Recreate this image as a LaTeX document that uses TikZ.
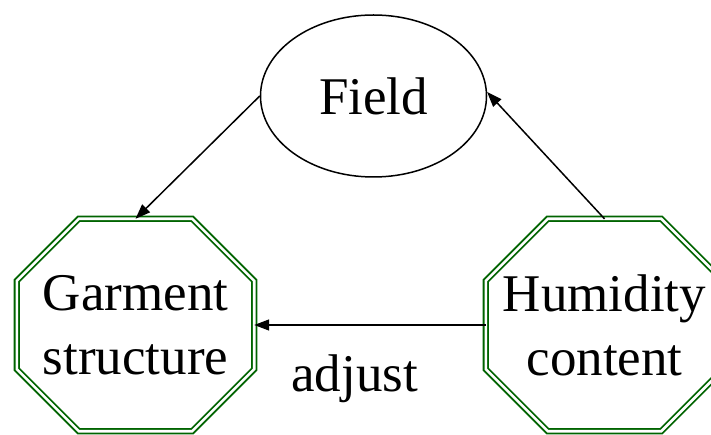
\documentclass[tikz,border=0pt]{standalone}
\usepackage{fontspec}
\setmainfont{Liberation Serif}
\usetikzlibrary{arrows.meta,shapes.geometric,calc}
\definecolor{boxgreen}{HTML}{006400}

% octagon drawn round a named rectangle node, corners cut by #2
\newcommand\octframe[2]{%
  \draw[octline]
    ($(#1.north west)+(#2,0)$) -- ($(#1.north east)+(-#2,0)$)
    -- ($(#1.north east)+(0,#2)$) -- ($(#1.south east)+(0,-#2)$)
    -- ($(#1.south east)+(-#2,0)$) -- ($(#1.south west)+(#2,0)$)
    -- ($(#1.south west)+(0,-#2)$) -- ($(#1.north west)+(0,#2)$)
    -- cycle;}

\begin{document}
\begin{tikzpicture}[x=1pt,y=-1pt,
  every node/.style={font=\fontsize{53}{64}\selectfont},
  octbox/.style={rectangle,minimum width=237pt,minimum height=212pt,
    inner sep=0pt,align=center},
  octline/.style={draw=boxgreen,line width=1.8pt,double=white,
    double distance=2.6pt,line join=miter},
  ovalbox/.style={ellipse,draw,line width=1.5pt,minimum width=226pt,
    minimum height=162pt,inner sep=0pt},
  link/.style={line width=1.5pt,-{Triangle[length=15pt,width=11pt]}}]
\useasboundingbox (0,0) rectangle (711,435);
\clip (0,0) rectangle (711,435);

\node[ovalbox] (field) at (373.5,96) {Field};
\node[octbox] (garment) at (135.5,325) {Garment\\structure};
\node[octbox] (humid) at (604.5,325) {Humidity\\content};

\octframe{garment}{62}
\octframe{humid}{62}

\draw[link] (field.west) -- (garment.north);
\draw[link] (humid.north) -- (field.2);
\draw[link] (humid.west) -- node[pos=0.566,anchor=base,yshift=-66pt] {adjust} (garment.east);
\end{tikzpicture}
\end{document}
